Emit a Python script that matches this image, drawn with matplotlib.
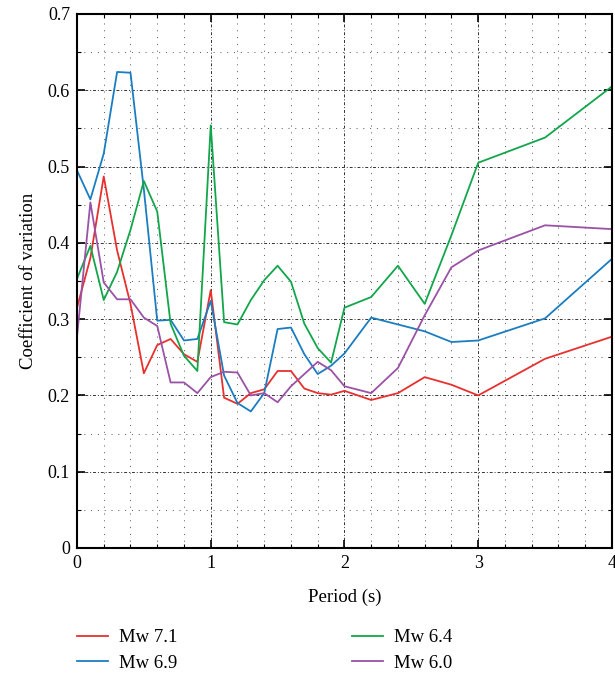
import matplotlib
matplotlib.use("Agg")
import matplotlib.pyplot as plt
from matplotlib.ticker import MultipleLocator

plt.rcParams['font.family'] = ['Liberation Serif', 'DejaVu Serif']

period = [0, 0.1, 0.2, 0.3, 0.4, 0.5, 0.6, 0.7, 0.8, 0.9, 1.0, 1.1, 1.2, 1.3,
          1.4, 1.5, 1.6, 1.7, 1.8, 1.9, 2.0, 2.2, 2.4, 2.6, 2.8, 3.0, 3.5, 4.0]

cov_mw71 = [0.315, 0.38, 0.487, 0.39, 0.32, 0.229, 0.266, 0.274, 0.254, 0.244,
            0.338, 0.197, 0.189, 0.203, 0.208, 0.232, 0.232, 0.209, 0.203, 0.201,
            0.206, 0.194, 0.203, 0.224, 0.214, 0.200, 0.248, 0.277]
cov_mw69 = [0.495, 0.457, 0.517, 0.624, 0.623, 0.47, 0.298, 0.299, 0.272, 0.274,
            0.324, 0.226, 0.19, 0.179, 0.203, 0.287, 0.289, 0.254, 0.228, 0.239,
            0.255, 0.302, 0.293, 0.284, 0.270, 0.272, 0.301, 0.379]
cov_mw64 = [0.353, 0.396, 0.325, 0.362, 0.417, 0.481, 0.441, 0.294, 0.252, 0.232,
            0.554, 0.296, 0.293, 0.325, 0.351, 0.370, 0.349, 0.294, 0.262, 0.243,
            0.315, 0.329, 0.370, 0.320, 0.41, 0.505, 0.538, 0.605]
cov_mw60 = [0.277, 0.453, 0.348, 0.326, 0.326, 0.302, 0.291, 0.217, 0.217, 0.203,
            0.224, 0.231, 0.230, 0.200, 0.203, 0.191, 0.212, 0.228, 0.244, 0.233,
            0.212, 0.203, 0.236, 0.305, 0.368, 0.390, 0.423, 0.418]

labels = ["Mw 7.1", "Mw 6.9", "Mw 6.4", "Mw 6.0"]
colors = ["#E8302E", "#1B7DC1", "#12A64B", "#9A52A6"]

fig = plt.figure(figsize=(6.15, 6.82), dpi=100)
ax = fig.add_axes([0.1252, 0.1965, 0.8698, 0.783])

series = [cov_mw71, cov_mw69, cov_mw64, cov_mw60]
handles = []
for vals, lab, col in zip(series, labels, colors):
    h, = ax.plot(period, vals, color=col, lw=1.3, label=lab)
    handles.append(h)

ax.set_xlim(0, 4)
ax.set_ylim(0, 0.7)
ax.xaxis.set_major_locator(MultipleLocator(1))
ax.xaxis.set_minor_locator(MultipleLocator(0.2))
ax.yaxis.set_minor_locator(MultipleLocator(0.05))
ax.set_yticks([0, 0.1, 0.2, 0.3, 0.4, 0.5, 0.6, 0.7])
ax.set_yticklabels(["0", "0.1", "0.2", "0.3", "0.4", "0.5", "0.6", "0.7"])

ax.grid(which='major', color='#333333', lw=0.7, linestyle=(0, (3, 2, 1, 2)))
ax.grid(which='minor', color='#555555', lw=0.7, linestyle=(0, (1, 6)))
ax.set_axisbelow(True)

ax.tick_params(which='both', direction='in', top=True, right=True, colors='black')
ax.tick_params(which='major', length=6, width=1.2, labelsize=13, pad=5)
ax.tick_params(which='minor', length=3, width=0.8)
for sp in ax.spines.values():
    sp.set_linewidth(1.5)

ax.set_xlabel("Period (s)", fontsize=13.5, labelpad=12)
ax.set_ylabel("Coefficient of variation", fontsize=13.5, labelpad=8)

fig.legend(handles=handles, labels=labels, loc='upper left',
           bbox_to_anchor=(77 / 615, 1 - 629 / 682), ncol=2, frameon=False,
           fontsize=13.5, handlelength=1.65, handletextpad=0.6,
           columnspacing=9.3, labelspacing=0.45, borderpad=0, borderaxespad=0)

fig.savefig("out.png", dpi=100)
